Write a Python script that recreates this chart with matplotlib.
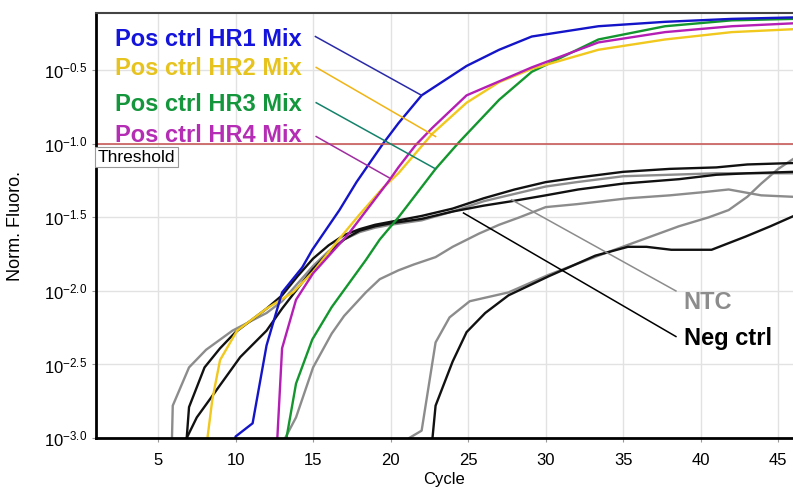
import numpy as np
import matplotlib
matplotlib.use('Agg')
import matplotlib.pyplot as plt
from matplotlib.ticker import FixedLocator, NullLocator

plt.rcParams['font.family'] = ['Liberation Sans', 'DejaVu Sans']
plt.rcParams['mathtext.fontset'] = 'custom'
plt.rcParams['mathtext.rm'] = 'Liberation Sans'
plt.rcParams['mathtext.it'] = 'Liberation Sans:italic'

# Curves: cycle and log10 of normalised fluorescence
hr1_cyc = [9.9, 10.0, 11.1, 12.0, 13.0, 14.3, 14.95, 16.7, 17.8, 19.5, 20.5, 22.0, 24.9, 27.0, 29.1, 33.4, 37.7, 42.0, 46.0]
hr1_log = [-3.1, -2.99, -2.90, -2.37, -2.01, -1.84, -1.72, -1.45, -1.26, -1.00, -0.86, -0.67, -0.47, -0.36, -0.27, -0.20, -0.17, -0.15, -0.14]

hr2_cyc = [8.1, 8.2, 8.5, 9.0, 10.1, 12.0, 13.7, 15.0, 16.5, 18.0, 19.5, 20.5, 22.7, 24.9, 27.0, 29.1, 33.4, 37.7, 42.0, 46.0]
hr2_log = [-3.1, -2.99, -2.74, -2.47, -2.27, -2.12, -2.01, -1.87, -1.67, -1.48, -1.30, -1.20, -0.93, -0.72, -0.58, -0.49, -0.36, -0.29, -0.24, -0.22]

hr3_cyc = [13.2, 13.3, 13.9, 14.95, 16.2, 18.4, 19.3, 20.5, 22.9, 24.4, 27.0, 29.1, 33.4, 37.7, 42.0, 46.0]
hr3_log = [-3.1, -2.99, -2.63, -2.33, -2.11, -1.79, -1.65, -1.50, -1.17, -0.99, -0.70, -0.51, -0.29, -0.20, -0.16, -0.15]

hr4_cyc = [12.6, 12.7, 13.0, 13.9, 15.0, 17.3, 19.9, 20.5, 21.6, 22.7, 24.9, 29.1, 33.4, 37.7, 42.0, 46.0]
hr4_log = [-3.1, -2.99, -2.39, -2.06, -1.88, -1.61, -1.25, -1.16, -1.01, -0.89, -0.67, -0.48, -0.31, -0.24, -0.20, -0.18]

neg1_cyc = [6.8, 6.85, 7.0, 8.0, 9.0, 10.0, 11.0, 12.0, 13.0, 14.0, 15.0, 16.0, 17.0, 18.0, 19.0, 20.0, 22.0, 24.0, 26.0, 28.0, 30.0, 32.0, 35.0, 38.0, 41.0, 43.0, 46.0]
neg1_log = [-3.1, -3.0, -2.79, -2.52, -2.39, -2.28, -2.20, -2.12, -2.03, -1.90, -1.78, -1.69, -1.62, -1.58, -1.55, -1.53, -1.49, -1.44, -1.37, -1.31, -1.26, -1.23, -1.19, -1.17, -1.16, -1.14, -1.13]

neg2_cyc = [6.8, 6.85, 7.5, 8.8, 10.3, 12.0, 13.0, 14.1, 15.0, 16.0, 17.0, 18.0, 19.0, 20.0, 22.0, 24.0, 26.0, 27.8, 30.0, 32.1, 35.0, 38.6, 41.0, 43.0, 46.0]
neg2_log = [-3.1, -3.0, -2.86, -2.67, -2.45, -2.27, -2.12, -1.97, -1.85, -1.74, -1.65, -1.59, -1.56, -1.54, -1.51, -1.46, -1.42, -1.39, -1.35, -1.31, -1.27, -1.24, -1.21, -1.20, -1.19]

neg3_cyc = [22.6, 22.7, 22.9, 24.0, 24.9, 26.1, 27.6, 30.2, 33.2, 35.3, 36.5, 38.1, 40.7, 42.9, 44.5, 46.0]
neg3_log = [-3.1, -3.0, -2.78, -2.48, -2.28, -2.15, -2.03, -1.90, -1.76, -1.70, -1.70, -1.72, -1.72, -1.63, -1.56, -1.49]

ntc1_cyc = [5.8, 5.9, 5.95, 7.0, 8.1, 9.8, 12.0, 13.0, 14.0, 15.0, 16.0, 17.0, 18.0, 19.0, 20.0, 22.0, 24.0, 26.0, 28.0, 30.0, 32.0, 35.0, 38.0, 41.0, 46.0]
ntc1_log = [-3.1, -3.0, -2.78, -2.52, -2.40, -2.27, -2.15, -2.07, -1.95, -1.83, -1.73, -1.65, -1.60, -1.57, -1.55, -1.52, -1.46, -1.39, -1.34, -1.29, -1.26, -1.22, -1.21, -1.20, -1.20]

ntc2_cyc = [13.1, 13.2, 13.9, 15.0, 16.2, 17.0, 18.4, 19.3, 20.5, 21.5, 22.9, 24.0, 25.7, 27.0, 28.3, 30.0, 32.0, 35.3, 38.0, 40.0, 41.8, 43.9, 46.0]
ntc2_log = [-3.1, -3.0, -2.86, -2.52, -2.29, -2.17, -2.01, -1.92, -1.86, -1.82, -1.77, -1.70, -1.61, -1.55, -1.50, -1.43, -1.41, -1.37, -1.35, -1.33, -1.31, -1.35, -1.36]

ntc3_cyc = [21.1, 21.2, 22.0, 22.9, 23.8, 25.1, 27.6, 30.2, 33.4, 36.0, 38.6, 40.5, 41.8, 43.0, 43.9, 45.0, 46.0]
ntc3_log = [-3.1, -3.0, -2.95, -2.35, -2.18, -2.07, -2.01, -1.89, -1.76, -1.66, -1.56, -1.50, -1.45, -1.36, -1.27, -1.17, -1.10]

y_ticks = [-3.0, -2.5, -2.0, -1.5, -1.0, -0.5]
x_ticks = [5, 10, 15, 20, 25, 30, 35, 40, 45]
threshold_log = -1.0

fig = plt.figure(figsize=(7.93, 4.94), dpi=100)
ax = fig.add_axes([96 / 793, 56 / 494, 697 / 793, 425 / 494])

# grey / black controls first, positives on top
for cyc, lg in [(ntc1_cyc, ntc1_log), (ntc2_cyc, ntc2_log), (ntc3_cyc, ntc3_log)]:
    ax.plot(cyc, 10 ** np.array(lg), color='#8c8c8c', lw=1.7)
for cyc, lg in [(neg1_cyc, neg1_log), (neg2_cyc, neg2_log), (neg3_cyc, neg3_log)]:
    ax.plot(cyc, 10 ** np.array(lg), color='#111111', lw=1.7)

ax.plot(hr3_cyc, 10 ** np.array(hr3_log), color='#14962e', lw=1.7)
ax.plot(hr2_cyc, 10 ** np.array(hr2_log), color='#f0c81e', lw=1.7)
ax.plot(hr4_cyc, 10 ** np.array(hr4_log), color='#b41eb4', lw=1.7)
ax.plot(hr1_cyc, 10 ** np.array(hr1_log), color='#1414c8', lw=1.7)

ax.axhline(10 ** threshold_log, color='#c85a5a', lw=1.2)
ax.text(1.1, 10 ** -1.04, 'Threshold', fontsize=12.5, va='top', ha='left',
        bbox=dict(boxstyle='square,pad=0.15', fc='white', ec='#999999', lw=0.8))

ax.set_yscale('log')
ax.set_xlim(1, 45.95)
ax.set_ylim(10 ** -3.0, 10 ** -0.11)
ax.yaxis.set_major_locator(FixedLocator([10 ** v for v in y_ticks]))
ax.yaxis.set_minor_locator(NullLocator())
ax.set_yticklabels([r'$10^{%.1f}$' % v for v in y_ticks], fontsize=12)
ax.set_xticks(x_ticks)
ax.tick_params(axis='x', labelsize=12, length=3, pad=8, color='#999999')
ax.tick_params(axis='y', length=3, color='#999999')
ax.grid(True, color='#e2e2e2', lw=1)
ax.set_axisbelow(True)

ax.spines['right'].set_visible(False)
ax.spines['left'].set_linewidth(2)
ax.spines['bottom'].set_linewidth(2)
ax.spines['top'].set_linewidth(1.5)
ax.spines['top'].set_color('#444444')

ax.set_xlabel('Cycle', fontsize=12, labelpad=3)
ax.set_ylabel('Norm. Fluoro.', fontsize=13, labelpad=14)

# labels with leader lines
labels = [
    ('Pos ctrl HR1 Mix', '#1414dc', '#2a2aa8', -0.29, (15.15, -0.27), (22.0, -0.67)),
    ('Pos ctrl HR2 Mix', '#e6c31e', '#f0b414', -0.49, (15.2, -0.48), (22.9, -0.95)),
    ('Pos ctrl HR3 Mix', '#14963c', '#14826a', -0.73, (15.2, -0.72), (22.9, -1.17)),
    ('Pos ctrl HR4 Mix', '#b42db4', '#a02da0', -0.94, (15.2, -0.95), (19.9, -1.23)),
    ('NTC', '#8c8c8c', '#8c8c8c', -2.08, (38.4, -2.00), (27.8, -1.38)),
    ('Neg ctrl', '#000000', '#000000', -2.32, (38.4, -2.31), (24.7, -1.47)),
]
for text, tcol, lcol, ty, p0, p1 in labels:
    tx = 2.2 if text.startswith('Pos') else 38.9
    ax.text(tx, 10 ** ty, text, color=tcol, fontsize=17, fontweight='bold', va='center', ha='left')
    ax.plot([p0[0], p1[0]], [10 ** p0[1], 10 ** p1[1]], color=lcol, lw=1.1)

fig.savefig('out.png', dpi=100)
